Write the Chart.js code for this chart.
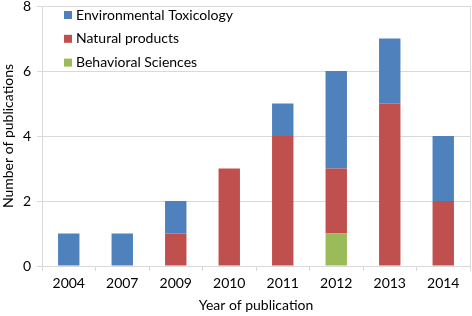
<!DOCTYPE html>
<html>
<head>
<meta charset="utf-8">
<script src="https://cdn.jsdelivr.net/npm/chart.js@4"></script>
<style>
  html, body { margin: 0; padding: 0; background: #ffffff; }
  #wrap { width: 472px; height: 316px; }
</style>
</head>
<body>
<div id="wrap"><canvas id="barChart" width="472" height="316"></canvas></div>
<script>
// ===========================
// Data
// ===========================
const years = ["2004", "2007", "2009", "2010", "2011", "2012", "2013", "2014"];
const behavioral = [0, 0, 0, 0, 0, 1, 0, 0];
const natural = [0, 0, 1, 3, 4, 2, 5, 2];
const environmental = [1, 1, 1, 0, 1, 3, 2, 2];
const yTicks = [0, 2, 4, 6, 8];

const FONT = "Lato";
const GRID = "#d9d9d9";

// legend drawn inside the plot, top left, plus right plot border
const insideLegend = {
    id: "insideLegend",
    afterDraw(chart) {
        const ctx = chart.ctx;
        const area = chart.chartArea;
        ctx.save();
        ctx.strokeStyle = GRID;
        ctx.lineWidth = 1;
        ctx.beginPath();
        ctx.moveTo(area.right + 0.5, area.top);
        ctx.lineTo(area.right + 0.5, area.bottom);
        ctx.stroke();

        const items = chart.data.datasets.slice().reverse();
        ctx.font = "14px " + FONT;
        ctx.textBaseline = "middle";
        items.forEach((ds, i) => {
            const y = 14.5 + i * 23.8;
            ctx.fillStyle = ds.backgroundColor;
            ctx.fillRect(64, y - 3.5, 8, 8);
            ctx.fillStyle = "#000000";
            ctx.fillText(ds.label, 76, y + 0.5);
        });
        ctx.restore();
    }
};

new Chart(document.getElementById("barChart"), {

    type: "bar",

    data: {
        labels: years,
        datasets: [
            { label: "Behavioral Sciences", data: behavioral, backgroundColor: "#9bbb59" },
            { label: "Natural products", data: natural, backgroundColor: "#c0504d" },
            { label: "Environmental Toxicology", data: environmental, backgroundColor: "#4f81bd" }
        ]
    },

    options: {
        responsive: false,
        animation: false,
        categoryPercentage: 1,
        barPercentage: 0.4,
        layout: { padding: { top: 6, right: 2, left: 0, bottom: 0 } },
        plugins: {
            legend: { display: false },
            tooltip: { enabled: false }
        },
        scales: {
            x: {
                stacked: true,
                grid: {
                    drawOnChartArea: false,
                    drawTicks: true,
                    tickLength: 5,
                    color: GRID
                },
                border: { color: GRID },
                ticks: {
                    color: "#000000",
                    padding: 4,
                    font: { family: FONT, size: 14 }
                },
                title: {
                    display: true,
                    text: "Year of publication",
                    color: "#000000",
                    padding: { top: 2, bottom: 2 },
                    font: { family: FONT, size: 14 }
                },
                afterFit(scale) { scale.height = 50; }
            },
            y: {
                stacked: true,
                min: 0,
                max: 8,
                afterBuildTicks(scale) {
                    scale.ticks = yTicks.map(v => ({ value: v }));
                },
                grid: {
                    color: GRID,
                    tickLength: 5
                },
                border: { color: GRID },
                ticks: {
                    color: "#000000",
                    padding: 6,
                    font: { family: FONT, size: 14 }
                },
                title: {
                    display: true,
                    text: "Number of publications",
                    color: "#000000",
                    padding: { top: 0, bottom: 2 },
                    font: { family: FONT, size: 14 }
                },
                afterFit(scale) {
                    scale.width = 42;
                    scale.paddingTop = 0;
                    scale.paddingBottom = 0;
                }
            }
        }
    },

    plugins: [insideLegend]
});
</script>
</body>
</html>
